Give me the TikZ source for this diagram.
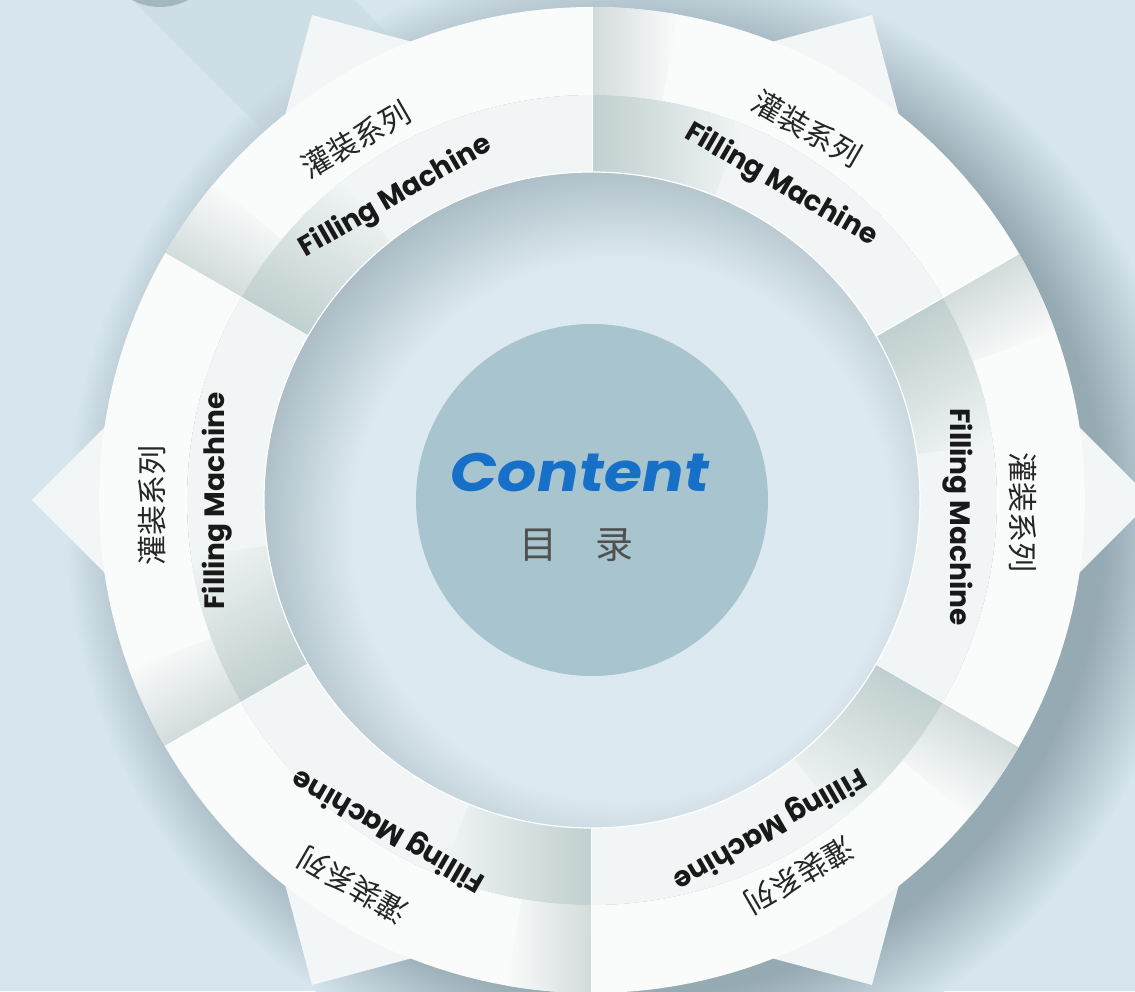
\documentclass[tikz,border=0pt]{standalone}
\usepackage{fontspec}
\newfontfamily\engfont{Poppins}
\newfontfamily\cjkfont{Noto Sans CJK SC}
\newfontfamily\titlefont{Poppins}[FakeSlant=0.18, FakeStretch=1.15]

\definecolor{bgblue}{RGB}{214,229,238}
\definecolor{bgdark}{RGB}{163,183,192}
\definecolor{bgshade}{RGB}{190,208,218}
\definecolor{shadowdark}{RGB}{150,170,179}
\definecolor{bandwhite}{RGB}{250,251,251}
\definecolor{innerwhite}{RGB}{241,245,245}
\definecolor{outergray}{RGB}{210,219,219}
\definecolor{innergray}{RGB}{192,207,207}
\definecolor{tabwhite}{RGB}{243,246,246}
\definecolor{floorlight}{RGB}{221,233,240}
\definecolor{floordark}{RGB}{168,186,194}
\definecolor{hubblue}{RGB}{168,196,206}
\definecolor{titleblue}{RGB}{22,112,200}
\definecolor{textgray}{RGB}{80,80,80}

\pgfdeclarehorizontalshading{outerfold}{100bp}{color(0bp)=(outergray); color(25bp)=(outergray); color(75bp)=(bandwhite); color(100bp)=(bandwhite)}
\pgfdeclarehorizontalshading{innerfold}{100bp}{color(0bp)=(innergray); color(25bp)=(innergray); color(75bp)=(innerwhite); color(100bp)=(innerwhite)}
\pgfdeclareradialshading{floorglow}{\pgfpoint{0bp}{0bp}}{color(0bp)=(floorlight); color(18bp)=(floorlight); color(25bp)=(floordark); color(50bp)=(floordark)}
\pgfdeclareradialshading{ringshadow}{\pgfpoint{0bp}{0bp}}{color(0bp)=(shadowdark); color(21bp)=(shadowdark); color(25bp)=(bgblue); color(50bp)=(bgblue)}

\tikzset{
  outer band/.style={insert path={(30:405) arc[start angle=30, end angle=90, radius=405] -- (90:493) arc[start angle=90, end angle=30, radius=493] -- cycle}},
  inner band/.style={insert path={(30:328) arc[start angle=30, end angle=90, radius=328] -- (90:405) arc[start angle=90, end angle=30, radius=405] -- cycle}},
  outer fold/.style={insert path={(80:405) arc[start angle=80, end angle=90, radius=405] -- (90:493) arc[start angle=90, end angle=80, radius=493] -- cycle}},
  inner fold/.style={insert path={(68:328) arc[start angle=68, end angle=90, radius=328] -- (90:405) arc[start angle=90, end angle=68, radius=405] -- cycle}},
  seam/.style={white, line width=1.2pt},
  cnlabel/.style={font=\cjkfont\fontsize{30}{36}\selectfont, text=black!85},
  enlabel/.style={font=\engfont\bfseries\fontsize{28}{34}\selectfont, text=black!90},
}

\begin{document}
\begin{tikzpicture}[x=1pt, y=1pt]
\useasboundingbox (-592,-491) rectangle (543,500);
\clip (-592,-491) rectangle (543,500);
\fill[bgblue] (-592,-491) rectangle (543,500);
\shade[shading=ringshadow] (38,-22) circle[radius=565];
\fill[bgshade, opacity=.3] (-459,500) -- (-262,303) -- (-142,400) -- (-237,500) -- cycle;
\fill[bgdark] (-432,553) circle[radius=60];

% ring with its six tips
\fill[tabwhite]
  (0:560) -- +(135:150) -- +(225:150) -- cycle
  (60:560) -- +(195:150) -- +(285:150) -- cycle
  (120:560) -- +(255:150) -- +(345:150) -- cycle
  (180:560) -- +(315:150) -- +(45:150) -- cycle
  (240:560) -- +(15:150) -- +(105:150) -- cycle
  (300:560) -- +(75:150) -- +(165:150) -- cycle;

% segment 60
\begin{scope}[transform canvas={rotate=0}]
\fill[bandwhite, outer band];
\shade[shading=outerfold, outer fold];
\fill[innerwhite, inner band];
\shade[shading=innerfold, inner fold];
\draw[seam] (90:328) -- (90:493);
\end{scope}
% segment 120
\begin{scope}[transform canvas={rotate=60}]
\fill[bandwhite, outer band];
\shade[shading=outerfold, outer fold];
\fill[innerwhite, inner band];
\shade[shading=innerfold, inner fold];
\draw[seam] (90:328) -- (90:493);
\end{scope}
% segment 180
\begin{scope}[transform canvas={rotate=120}]
\fill[bandwhite, outer band];
\shade[shading=outerfold, outer fold];
\fill[innerwhite, inner band];
\shade[shading=innerfold, inner fold];
\draw[seam] (90:328) -- (90:493);
\end{scope}
% segment 240
\begin{scope}[transform canvas={rotate=180}]
\fill[bandwhite, outer band];
\shade[shading=outerfold, outer fold];
\fill[innerwhite, inner band];
\shade[shading=innerfold, inner fold];
\draw[seam] (90:328) -- (90:493);
\end{scope}
% segment 300
\begin{scope}[transform canvas={rotate=240}]
\fill[bandwhite, outer band];
\shade[shading=outerfold, outer fold];
\fill[innerwhite, inner band];
\shade[shading=innerfold, inner fold];
\draw[seam] (90:328) -- (90:493);
\end{scope}
% segment 0
\begin{scope}[transform canvas={rotate=-60}]
\fill[bandwhite, outer band];
\shade[shading=outerfold, outer fold];
\fill[innerwhite, inner band];
\shade[shading=innerfold, inner fold];
\draw[seam] (90:328) -- (90:493);
\end{scope}

% floor inside the ring
\begin{scope}
\clip (0,0) circle[radius=328];
\shade[shading=floorglow] (30,-30) circle[radius=375];
\end{scope}
\draw[white, line width=1.2pt] (0,0) circle[radius=328];

\node[circle, fill=hubblue, minimum size=352pt, inner sep=0pt] (hub) at (0,0) {};
\node[font=\titlefont\bfseries\fontsize{54}{62}\selectfont, text=titleblue] (title) at (-15,27) {Content};
\node[font=\cjkfont\fontsize{38}{44}\selectfont, text=textgray] (subtitle) at (-15,-45) {目\quad 录};

\node[cnlabel, rotate=30] (cnA) at (-236,360) {灌装系列};
\node[enlabel, rotate=30] (enA) at (-196,303) {Filling Machine};
\node[cnlabel, rotate=-30] (cnB) at (215,371) {灌装系列};
\node[enlabel, rotate=-30] (enB) at (189,315) {Filling Machine};
\node[cnlabel, rotate=-90] (cnC) at (431,-12) {灌装系列};
\node[enlabel, rotate=-90] (enC) at (366,-17) {Filling Machine};
\node[cnlabel, rotate=210] (cnD) at (207,-375) {灌装系列};
\node[enlabel, rotate=210] (enD) at (177,-328) {Filling Machine};
\node[cnlabel, rotate=150] (cnE) at (-239,-385) {灌装系列};
\node[enlabel, rotate=150] (enE) at (-203,-330) {Filling Machine};
\node[cnlabel, rotate=90] (cnF) at (-440,-5) {灌装系列};
\node[enlabel, rotate=90] (enF) at (-375,-1) {Filling Machine};
\end{tikzpicture}
\end{document}
